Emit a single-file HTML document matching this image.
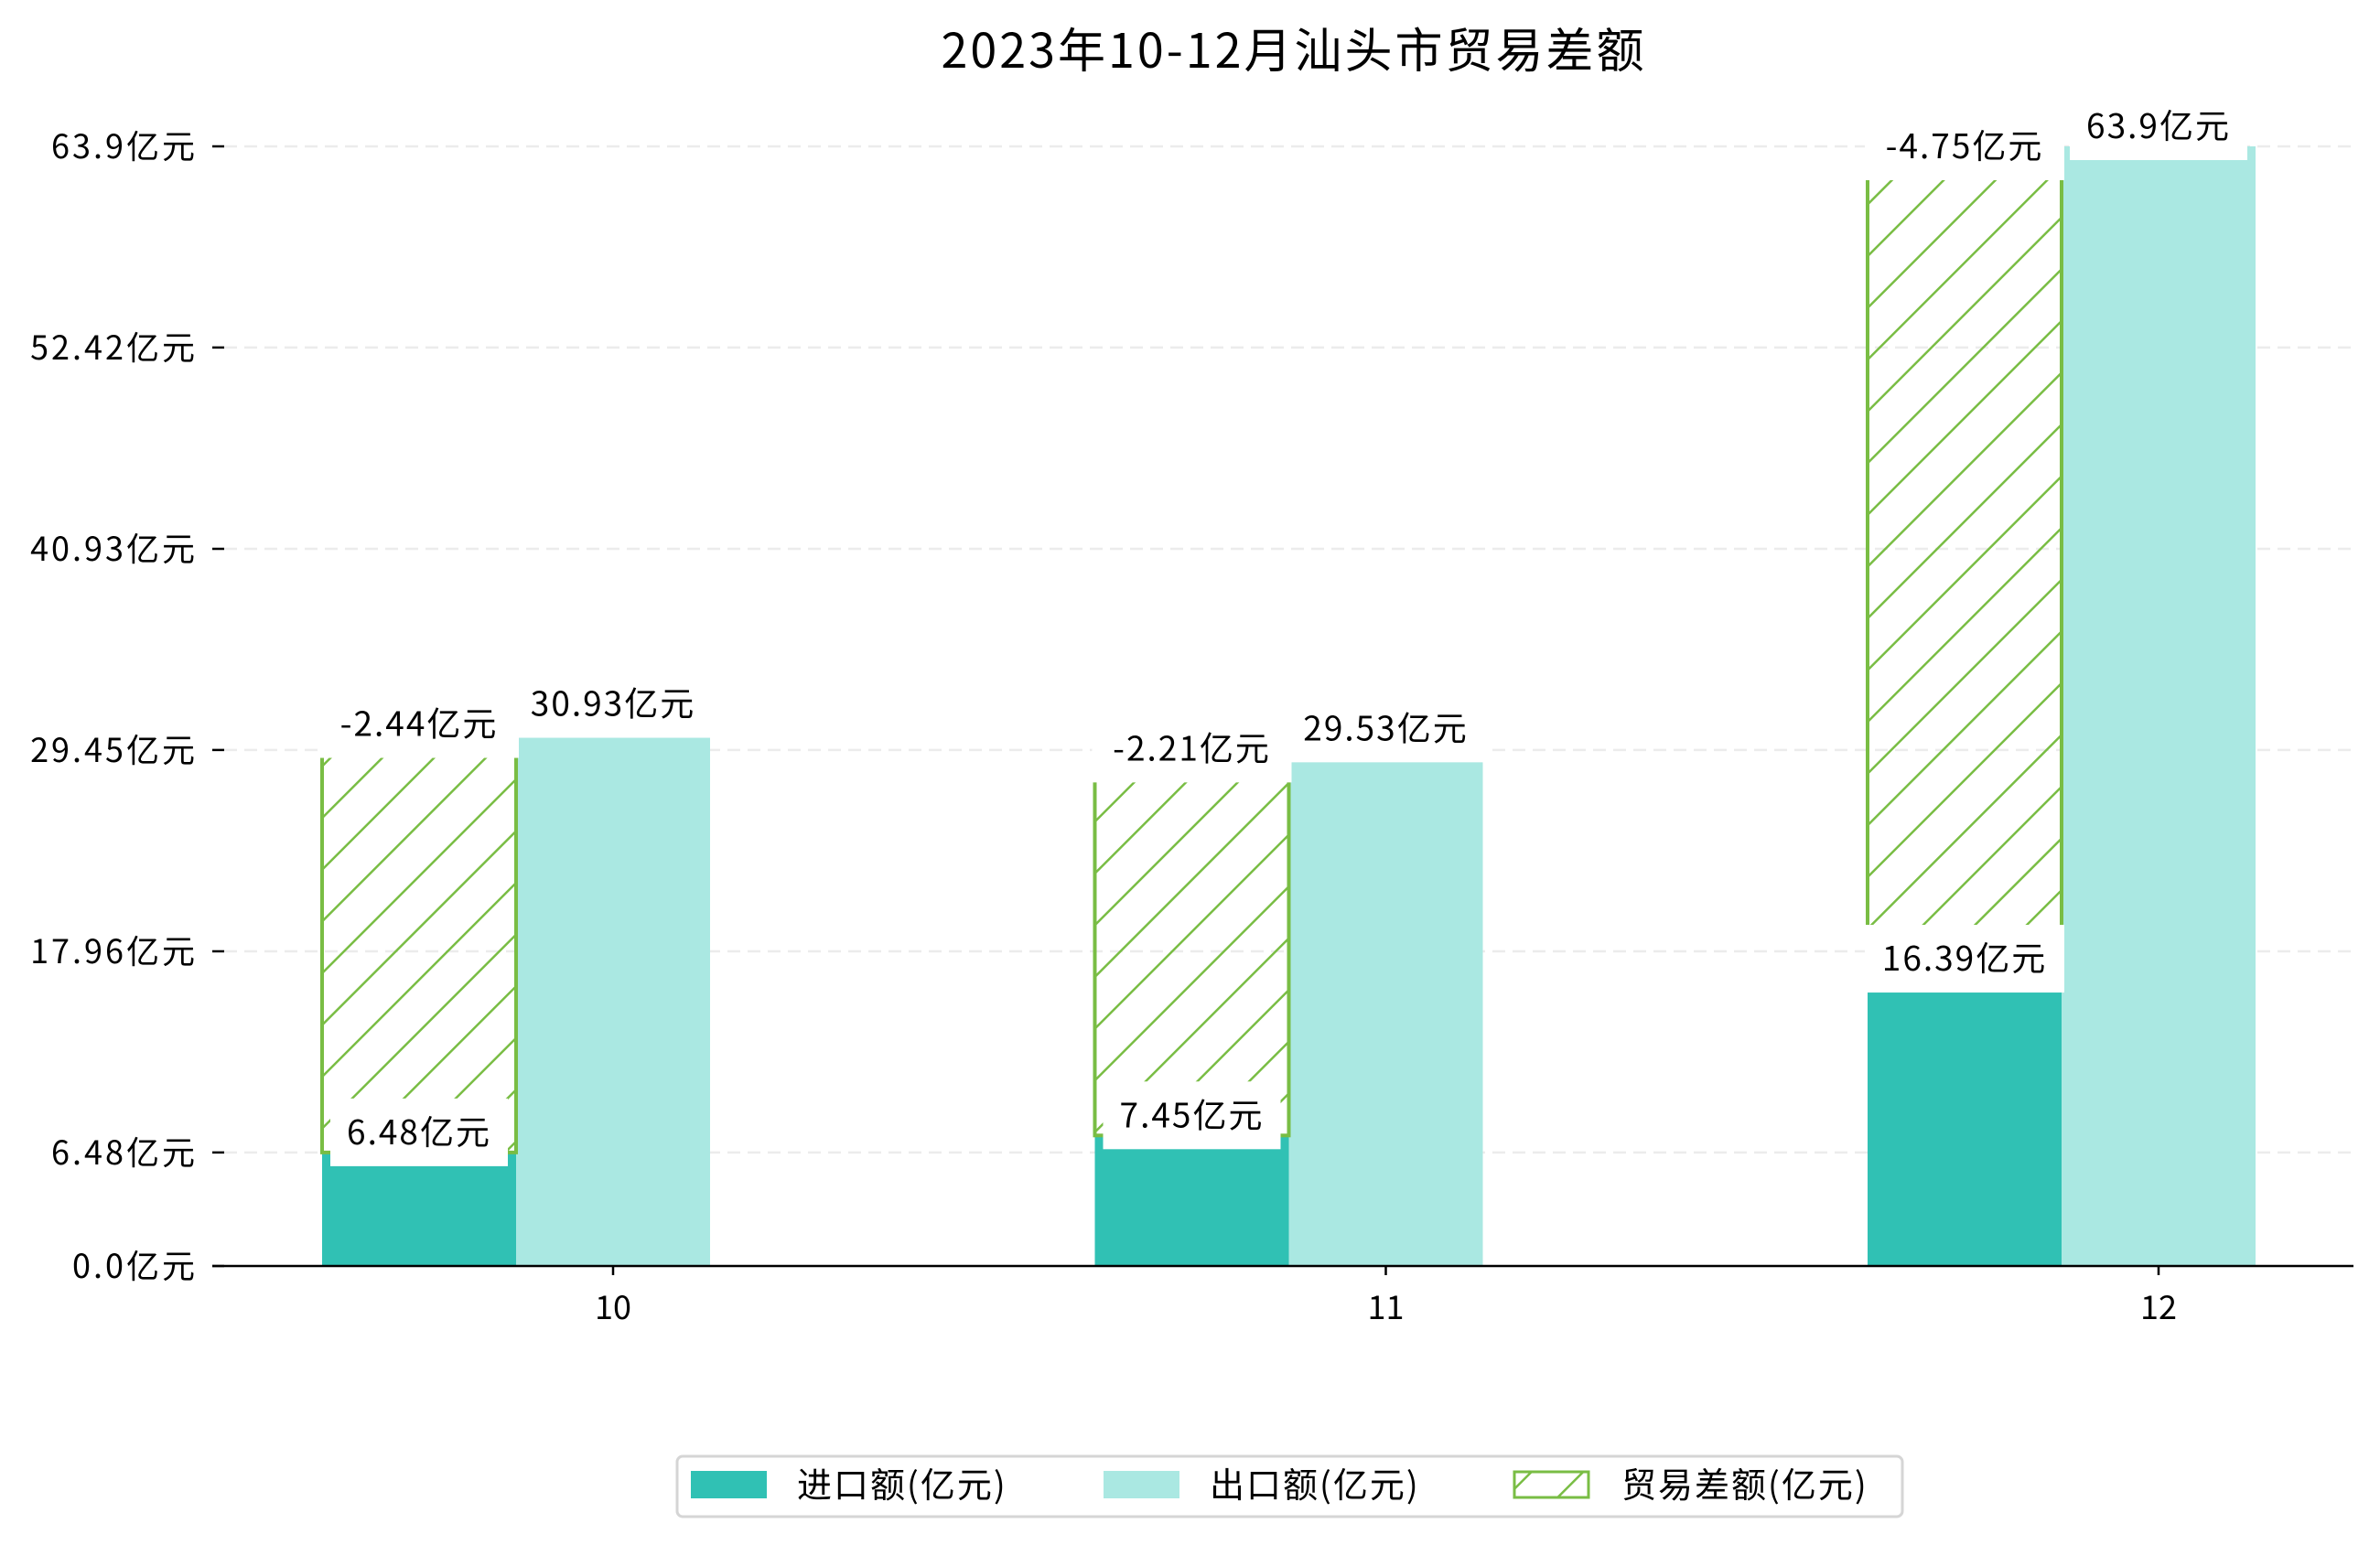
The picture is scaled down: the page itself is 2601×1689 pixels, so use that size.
<!DOCTYPE html>
<html><head><meta charset="utf-8"><style>
html,body{margin:0;padding:0;background:#fff;}
svg{display:block;font-family:"WenQuanYi Zen Hei","Noto Sans CJK SC",sans-serif;}
</style></head><body>
<svg id="chart" width="2601" height="1689" viewBox="0 0 2601 1689">
<defs>
<pattern id="hatch" patternUnits="userSpaceOnUse" width="40" height="40" patternTransform="rotate(45)">
<line x1="0" y1="0" x2="0" y2="40" stroke="#79bd44" stroke-width="5"/>
</pattern>
</defs>
<text x="1414" y="74" font-size="52" letter-spacing="3" text-anchor="middle" fill="#000">2023年10-12月汕头市贸易差额</text>
<g id="grid"></g><g id="bars"></g><g id="labels"></g><g id="axes"></g>
<g>
<rect x="740" y="1592" width="1339" height="66" rx="6" fill="#fff" stroke="#d5d5d5" stroke-width="3"/>
<rect x="755" y="1608" width="83" height="30" fill="#30c1b4"/>
<text x="871" y="1637" font-size="38" letter-spacing="2">进口额(亿元)</text>
<rect x="1206" y="1608" width="83" height="30" fill="#aae8e2"/>
<text x="1322" y="1637" font-size="38" letter-spacing="2">出口额(亿元)</text>
<rect x="1655" y="1609" width="81" height="28" fill="url(#hatch)" stroke="#79bd44" stroke-width="3"/>
<text x="1772" y="1637" font-size="38" letter-spacing="2">贸易差额(亿元)</text>
</g>
</svg>
<script>
const categories = ["10","11","12"];
const importVals = [6.48, 7.45, 16.39];
const exportVals = [30.93, 29.53, 63.9];
const balanceVals = [-2.44, -2.21, -4.75];
const yTicks = [0.0, 6.48, 17.96, 29.45, 40.93, 52.42, 63.9];
const yTickLabels = ["0.0亿元","6.48亿元","17.96亿元","29.45亿元","40.93亿元","52.42亿元","63.9亿元"];

const NS = "http://www.w3.org/2000/svg";
const y0 = 1384, yTop = 160, yMax = 63.9;
const yS = v => y0 - v / yMax * (y0 - yTop);
const xS = i => 670 + i * 844.5;
const BW = 212;
function mk(tag, attrs, parent) {
  const e = document.createElementNS(NS, tag);
  for (const k in attrs) e.setAttribute(k, attrs[k]);
  parent.appendChild(e);
  return e;
}
const grid = document.getElementById('grid');
const bars = document.getElementById('bars');
const labels = document.getElementById('labels');
const axes = document.getElementById('axes');

yTicks.forEach((v, i) => {
  const y = yS(v);
  if (i > 0) {
    const g = mk('line', {x1: 245, x2: 2572, y1: y, y2: y, stroke: '#ececec', 'stroke-width': 2.5, 'stroke-dasharray': '14,8'}, grid);
    
    
  }
  const t = mk('line', {x1: 232, x2: 245, y1: y, y2: y, stroke: '#000', 'stroke-width': 2.5}, axes);
  
  
  const l = mk('text', {x: 216, y: y + 13, 'font-size': 36, 'letter-spacing': 3, 'text-anchor': 'end'}, axes);
  l.textContent = yTickLabels[i];
  
  
});
const base = mk('line', {x1: 232, x2: 2572, y1: y0, y2: y0, stroke: '#000', 'stroke-width': 2.5}, axes);



function labelBox(cx, cy, txt) {
  const w = txt.length * 24 + 50;
  const r = mk('rect', {x: cx - w / 2, y: cy - 37, width: w, height: 74, fill: '#fff'}, labels);
  
  
  const t = mk('text', {x: cx, y: cy + 13, 'font-size': 37, 'letter-spacing': 2, 'text-anchor': 'middle'}, labels);
  t.textContent = txt;
  
  
}

categories.forEach((c, i) => {
  const cx = xS(i);
  const ix = cx - 1.5 * BW, ex = cx - 0.5 * BW;
  const ib = mk('rect', {x: ix, y: yS(importVals[i]), width: BW, height: y0 - yS(importVals[i]), fill: '#30c1b4'}, bars);
  
  
  const eb = mk('rect', {x: ex, y: yS(exportVals[i]), width: BW, height: y0 - yS(exportVals[i]), fill: '#aae8e2'}, bars);
  
  
  const hTop = yS(exportVals[i]), hBot = yS(importVals[i]);
  const hb = mk('rect', {x: ix, y: hTop, width: BW, height: hBot - hTop, fill: 'url(#hatch)', stroke: '#79bd44', 'stroke-width': 4}, bars);
  
  
  const tk = mk('line', {x1: cx, x2: cx, y1: y0, y2: y0 + 10, stroke: '#000', 'stroke-width': 2.5}, axes);
  
  
  const xl = mk('text', {x: cx, y: y0 + 58, 'font-size': 36, 'text-anchor': 'middle'}, axes);
  xl.textContent = c;
  
  
  labelBox(ix + BW / 2, hTop, balanceVals[i] + '亿元');
  labelBox(ix + BW / 2, hBot - 22, importVals[i] + '亿元');
  labelBox(ex + BW / 2, hTop - 22, exportVals[i] + '亿元');
});
</script>
</body></html>
